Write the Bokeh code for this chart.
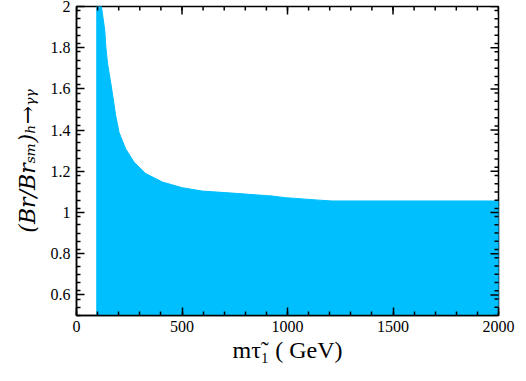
import math
from bokeh.plotting import figure
from bokeh.models import FixedTicker, Range1d
from bokeh.embed import file_html
from bokeh.resources import INLINE

# upper envelope of the allowed region
env_x = [96, 100, 110, 118, 125, 134, 139, 147, 160, 172, 186, 202, 233, 273, 328, 407, 502, 596, 754, 927, 990, 1149, 1212, 2000]
env_y = [2.0, 2.0, 2.0, 2.0, 1.95, 1.885, 1.805, 1.725, 1.645, 1.565, 1.469, 1.388, 1.309, 1.244, 1.189, 1.148, 1.12, 1.104, 1.093, 1.080, 1.072, 1.060, 1.056, 1.056]
y_floor = 0.5
x_lo, x_hi = 0, 2000
y_lo, y_hi = 0.5, 2.0
x_ticks = [0, 500, 1000, 1500, 2000]
y_ticks = [0.6, 0.8, 1.0, 1.2, 1.4, 1.6, 1.8, 2.0]
x_minor = list(range(0, 2001, 100))
y_minor = [round(0.5 + 0.04 * i, 2) for i in range(0, 38)]

px = [env_x[0]] + env_x + [env_x[-1]]
py = [y_floor] + env_y + [y_floor]

p = figure(width=517, height=373, output_backend="svg", toolbar_location=None,
           x_range=Range1d(x_lo, x_hi), y_range=Range1d(y_lo, y_hi),
           min_border_left=76, min_border_right=19, min_border_top=12, min_border_bottom=52)
p.styles = {"margin-top": "-6px"}
p.patch(px, py, fill_color="#00BFFF", line_color="#00BFFF", line_width=1)

p.grid.visible = False
p.outline_line_color = "black"
p.outline_line_width = 1.5

def style(ax, ticks, minor):
    ax.ticker = FixedTicker(ticks=ticks, minor_ticks=minor)
    ax.major_tick_in = 8
    ax.major_tick_out = 0
    ax.minor_tick_in = 4
    ax.minor_tick_out = 0
    ax.axis_line_color = "black"
    ax.axis_line_width = 1.5
    ax.major_tick_line_width = 1.5
    ax.minor_tick_line_width = 1.5
    ax.major_label_text_font = "Liberation Serif"
    ax.major_label_text_font_size = "16px"
    ax.major_label_text_color = "black"

style(p.xaxis[0], x_ticks, x_minor)
style(p.yaxis[0], y_ticks, y_minor)
p.yaxis[0].major_label_overrides = {1: "1", 2: "2"}
p.xaxis[0].major_label_standoff = 5
p.yaxis[0].major_label_standoff = 6

p.xaxis[0].axis_label = "mτ̃₁ ( GeV)"
p.xaxis[0].axis_label_text_font = "Liberation Serif"
p.xaxis[0].axis_label_text_font_style = "normal"
p.xaxis[0].axis_label_text_font_size = "24px"
p.xaxis[0].axis_label_text_color = "black"
p.xaxis[0].axis_label_standoff = 2

p.yaxis[0].axis_label = "(Br/Brₛₘ)ₕ→ᵧᵧ"
p.yaxis[0].axis_label_text_font = "DejaVu Serif"
p.yaxis[0].axis_label_text_font_style = "italic"
p.yaxis[0].axis_label_text_font_size = "22px"
p.yaxis[0].axis_label_text_color = "black"
p.yaxis[0].axis_label_standoff = 8

# inward ticks on the top and right edges (dash markers clipped by the frame)
p.scatter(x=x_ticks, y=[y_hi] * len(x_ticks), marker="dash", size=16, angle=math.pi / 2,
          line_color="black", line_width=1.5)
p.scatter(x=x_minor, y=[y_hi] * len(x_minor), marker="dash", size=8, angle=math.pi / 2,
          line_color="black", line_width=1.5)
p.scatter(x=[x_hi] * len(y_ticks), y=y_ticks, marker="dash", size=16,
          line_color="black", line_width=1.5)
p.scatter(x=[x_hi] * len(y_minor), y=y_minor, marker="dash", size=8,
          line_color="black", line_width=1.5)

open("out.html", "w").write(file_html(p, INLINE))
